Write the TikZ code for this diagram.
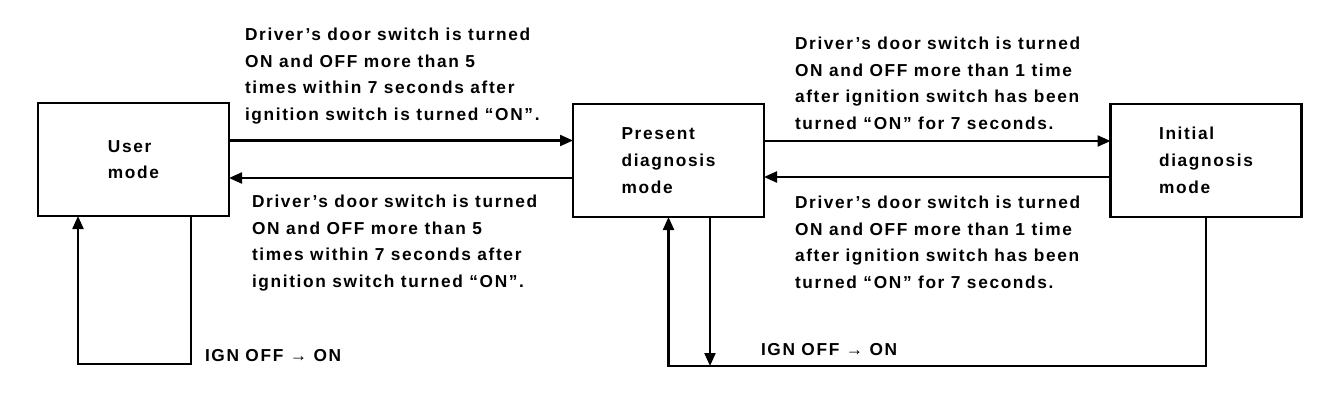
\documentclass[tikz,border=0pt]{standalone}
\usepackage{fontspec}
\setmainfont{Liberation Sans}[LetterSpace=9.5]
\usetikzlibrary{arrows.meta,calc}
\begin{document}
\begin{tikzpicture}[x=1pt,y=-1pt,
  every node/.style={inner sep=0pt,outer sep=0pt},
  txt/.style={font=\bfseries\fontsize{17.3}{26.7}\selectfont,align=left},
  modebox/.style={draw,line width=2.6pt,minimum width=191pt,minimum height=113pt,txt},
  conn/.style={line width=2.2pt,-{Triangle[length=13pt,width=11pt]}}]
\useasboundingbox (0,0) rectangle (1344,410);
% boxes
\node[modebox] (user) at (133.5,159.5) {User\\mode};
\node[modebox] (pres) at (668.5,160.5) {Present\\diagnosis\\mode};
\node[modebox] (init) at (1206,160.5) {Initial\\diagnosis\\mode};
% loop levels
\coordinate (ub) at (0,364);
\coordinate (rb) at (0,366);
% horizontal connectors
\draw[conn] ([yshift=19pt]user.east) -- ([yshift=19pt]user.east -| pres.west);
\draw[conn] ([yshift=-17.5pt]pres.west) -- ([yshift=-17.5pt]pres.west -| user.east);
\draw[conn] ([yshift=19.5pt]pres.east) -- ([yshift=19.5pt]pres.east -| init.west);
\draw[conn] ([yshift=-16.5pt]init.west) -- ([yshift=-16.5pt]init.west -| pres.east);
% loops
\draw[conn] ([xshift=57.5pt]user.south) -- ([xshift=57.5pt]user.south |- ub) -| ([xshift=-55.5pt]user.south);
\draw[conn] (init.south) -- (init.south |- rb) -| (pres.south);
\draw[conn] ([xshift=41.5pt]pres.south) -- ([xshift=41.5pt]pres.south |- rb);
% labels
\node[txt,anchor=north west] (l1) at (245,28) {Driver’s door switch is turned\\ON and OFF more than 5\\times within 7 seconds after\\ignition switch is turned “ON”.};
\node[txt,anchor=north west] (l2) at (252,195) {Driver’s door switch is turned\\ON and OFF more than 5\\times within 7 seconds after\\ignition switch turned “ON”.};
\node[txt,anchor=north west] (l3) at (795,37) {Driver’s door switch is turned\\ON and OFF more than 1 time\\after ignition switch has been\\turned “ON” for 7 seconds.};
\node[txt,anchor=north west] (l4) at (795,196) {Driver’s door switch is turned\\ON and OFF more than 1 time\\after ignition switch has been\\turned “ON” for 7 seconds.};
\node[txt,anchor=north west] (ign1) at (205,349) {IGN OFF → ON};
\node[txt,anchor=north west] (ign2) at (761,343) {IGN OFF → ON};
\end{tikzpicture}
\end{document}
